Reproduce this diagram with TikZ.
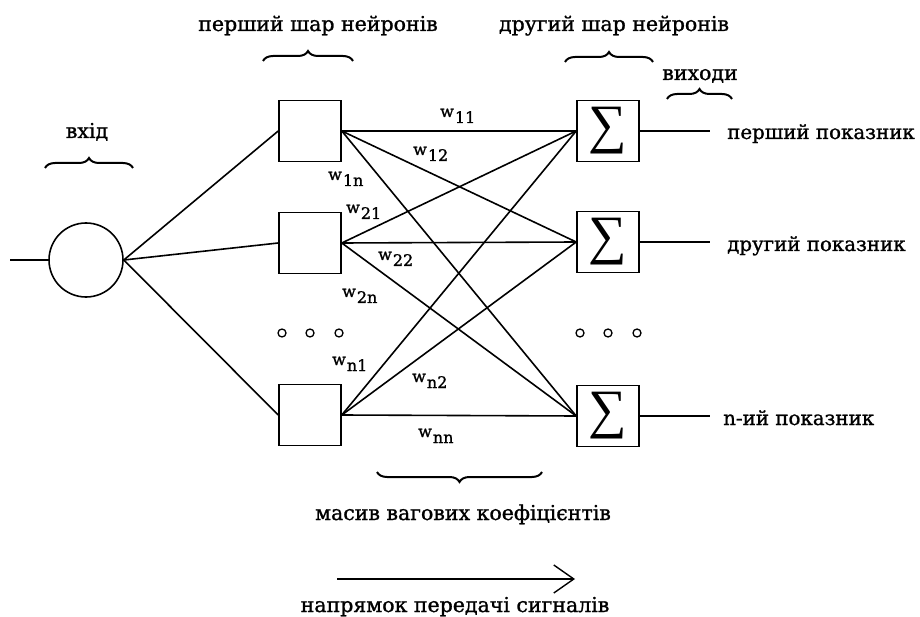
\documentclass[tikz,border=0pt]{standalone}
\usepackage{fontspec}
\setmainfont{DejaVu Serif}[FakeBold=1.2]
\newfontfamily\sumfont{Liberation Serif}
\usetikzlibrary{decorations.pathreplacing,arrows.meta}
\newcommand\wlab[1]{w\kern1pt\lower6pt\hbox{#1}}

\begin{document}
\begin{tikzpicture}[x=1pt,y=-1pt,
  wire/.style={line width=1.6pt},
  neuron/.style={draw,line width=1.6pt,minimum width=62pt,minimum height=61pt,inner sep=0pt},
  summer/.style={neuron,font=\sumfont\fontsize{54}{54}\selectfont},
  lbl/.style={anchor=base,inner sep=0pt,font=\fontsize{20.5}{24}\selectfont},
  side/.style={anchor=base west,inner sep=0pt,font=\fontsize{19.8}{24}\selectfont},
  wlbl/.style={anchor=base west,inner sep=0pt,font=\fontsize{16}{19}\selectfont},
  brc/.style={decorate,decoration={brace,amplitude=10pt},line width=2pt},
  dot/.style={circle,draw,line width=1.3pt,minimum size=8pt,inner sep=0pt},
]
\useasboundingbox (0,0) rectangle (920,617);

% input neuron
\node[circle,draw,line width=1.6pt,minimum size=74pt,inner sep=0pt] (in) at (86,260) {};
\coordinate (src) at (10,260);
\draw[wire] (src) -- (in.west);

% first layer
\node[neuron] (l1) at (310,131) {};
\node[neuron] (l2) at (310,243) {};
\node[neuron] (l3) at (310,415) {};

% second layer (summators)
\node[summer] (r1) at (608,131) {∑};
\node[summer] (r2) at (608,242) {∑};
\node[summer] (r3) at (608,416) {∑};

% input fan-out
\foreach \n in {l1,l2,l3} \draw[wire] (in.east) -- (\n.west);

% weight connections
\foreach \a in {l1,l2,l3}
  \foreach \b in {r1,r2,r3}
    \draw[wire] (\a.east) -- (\b.west);

% outputs
\coordinate (o1) at (710,131);
\coordinate (o2) at (710,242);
\coordinate (o3) at (710,416);
\draw[wire] (r1.east) -- (o1);
\draw[wire] (r2.east) -- (o2);
\draw[wire] (r3.east) -- (o3);

\node[side] (t1) at (727,139) {перший показник};
\node[side] (t2) at (727,251) {другий показник};
\node[side] (t3) at (723,425) {n-ий показник};

% ellipsis dots
\foreach \x [count=\i] in {282,310,339} \node[dot] (dl\i) at (\x,333) {};
\foreach \x [count=\i] in {580,608,637} \node[dot] (dr\i) at (\x,333) {};

% weights
\node[wlbl] (w11) at (440,117) {\wlab{11}};
\node[wlbl] (w12) at (413,155) {\wlab{12}};
\node[wlbl] (w1n) at (328,180) {\wlab{1n}};
\node[wlbl] (w21) at (346,213) {\wlab{21}};
\node[wlbl] (w22) at (378,260) {\wlab{22}};
\node[wlbl] (w2n) at (342,297) {\wlab{2n}};
\node[wlbl] (wn1) at (332,365) {\wlab{n1}};
\node[wlbl] (wn2) at (412,382) {\wlab{n2}};
\node[wlbl] (wnn) at (418,437) {\wlab{nn}};

% headings and braces
\node[lbl] (h1) at (318,31) {перший шар нейронів};
\node[lbl] (h2) at (614,31) {другий шар нейронів};
\node[lbl] (h3) at (700,80) {виходи};
\node[lbl] (h0) at (87,138) {вхід};

\coordinate (b0a) at (45,168);  \coordinate (b0b) at (133,168);
\coordinate (b1a) at (263,61);  \coordinate (b1b) at (353,61);
\coordinate (b2a) at (565,62);  \coordinate (b2b) at (653,62);
\coordinate (b3a) at (667,99);  \coordinate (b3b) at (732,99);
\coordinate (b4a) at (377,472); \coordinate (b4b) at (542,472);
\draw[brc] (b0a) -- (b0b);
\draw[brc] (b1a) -- (b1b);
\draw[brc] (b2a) -- (b2b);
\draw[brc] (b3a) -- (b3b);
\draw[brc,decoration={mirror}] (b4a) -- (b4b);

\node[lbl] (wm) at (463,520) {масив вагових коефіцієнтів};

% signal direction
\coordinate (d0) at (337,579);
\coordinate (d1) at (575,579);
\draw[wire,-{Straight Barb[length=20pt,width=28pt,line width=1.4pt]}] (d0) -- (d1);
\node[lbl] (dir) at (455,612) {напрямок передачі сигналів};
\end{tikzpicture}
\end{document}
